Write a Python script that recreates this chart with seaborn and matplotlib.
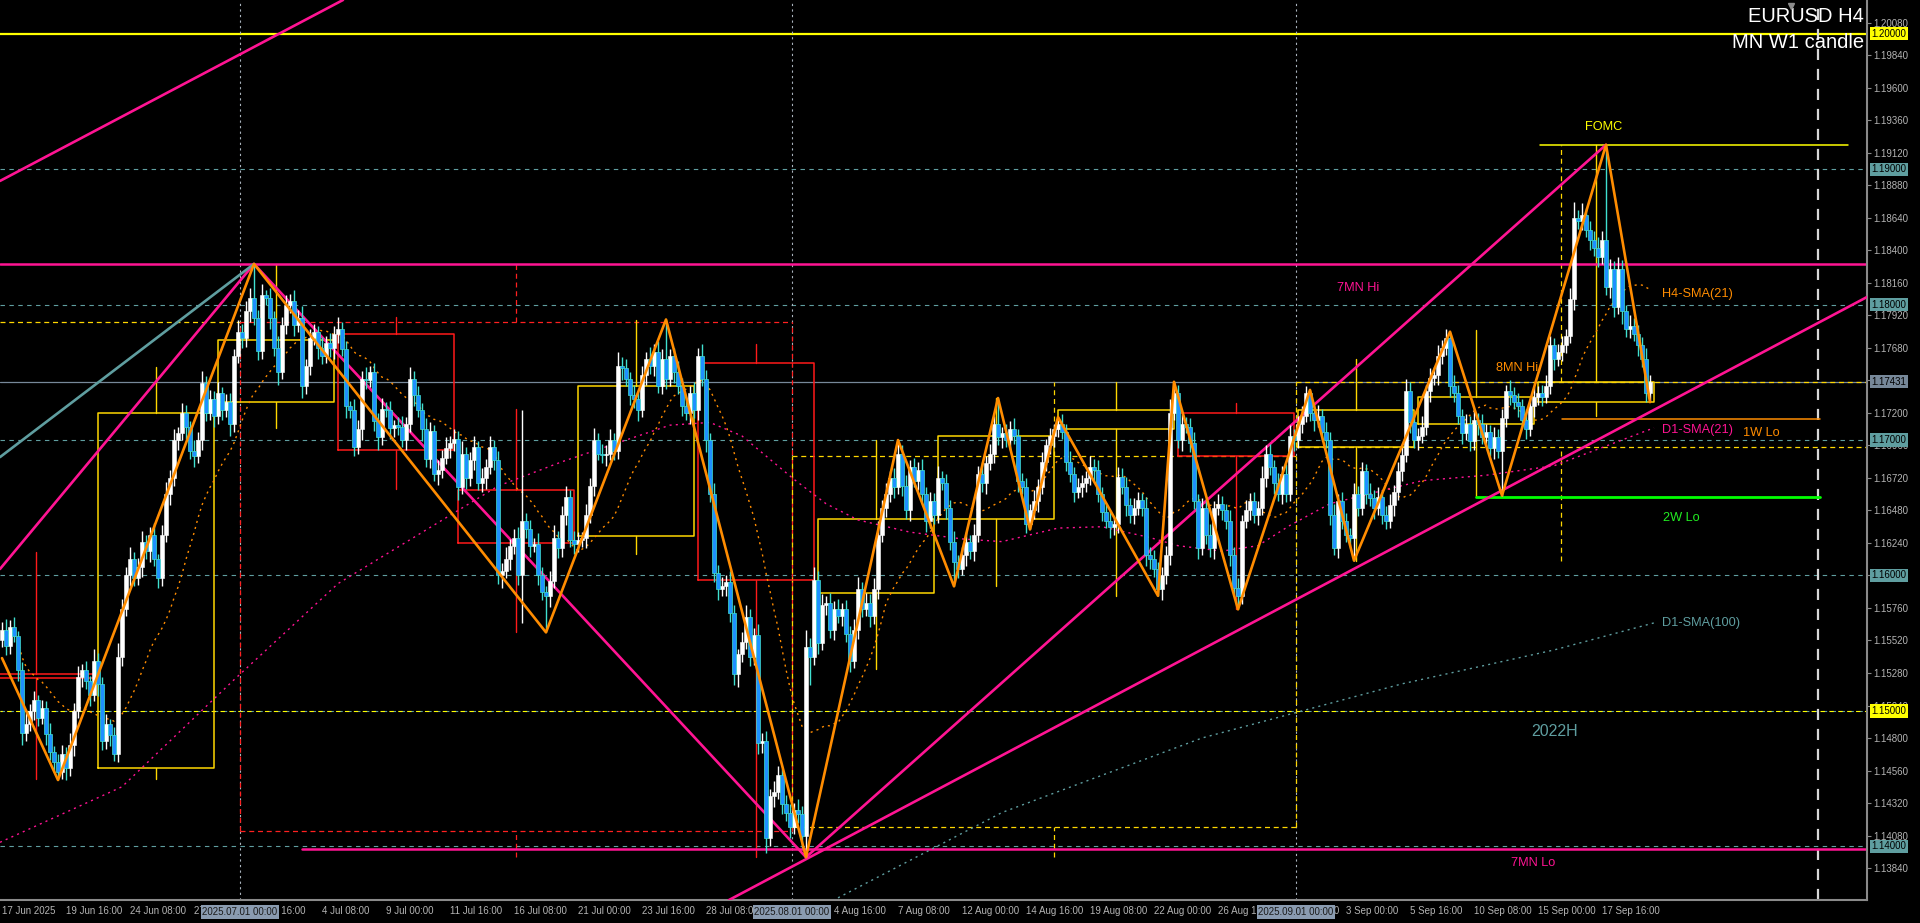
import numpy as np
import pandas as pd
import matplotlib
matplotlib.use("Agg")
import matplotlib.pyplot as plt
import matplotlib.transforms as mtransforms
import seaborn as sns

# ---- EURUSD H4 candles, 17 Jun 2025 00:00 onwards (prices x 10000) ----
first_open = 11552
closes = [
    11560, 11548, 11562, 11555, 11530, 11484, 11490, 11500, 11508, 11495,
    11502, 11483, 11470, 11462, 11455, 11468, 11458, 11475, 11500, 11525,
    11530, 11522, 11512, 11537, 11520, 11478, 11490, 11482, 11468, 11540,
    11575, 11600, 11612, 11598, 11606, 11625, 11618, 11630, 11612, 11598,
    11630, 11660, 11672, 11700, 11705, 11720, 11710, 11692, 11688, 11700,
    11742, 11720, 11730, 11718, 11735, 11722, 11728, 11712, 11762, 11780,
    11775, 11795, 11805, 11790, 11766, 11807, 11805, 11790, 11768, 11750,
    11785, 11800, 11803, 11785, 11790, 11740, 11755, 11775, 11780, 11768,
    11762, 11772, 11768, 11778, 11782, 11767, 11725, 11722, 11695, 11708,
    11745, 11744, 11750, 11714, 11702, 11723, 11722, 11709, 11711, 11710,
    11700, 11712, 11745, 11733, 11722, 11708, 11686, 11707, 11675, 11678,
    11687, 11694, 11698, 11701, 11665, 11690, 11672, 11685, 11695, 11668,
    11672, 11680, 11695, 11685, 11600, 11603, 11612, 11622, 11628, 11600,
    11640, 11634, 11622, 11623, 11600, 11588, 11585, 11596, 11628, 11620,
    11645, 11658, 11626, 11623, 11626, 11628, 11645, 11666, 11700, 11690,
    11689, 11690, 11700, 11692, 11755, 11753, 11745, 11733, 11730, 11722,
    11748, 11760, 11755, 11765, 11740, 11760, 11745, 11762, 11750, 11740,
    11725, 11720, 11735, 11722, 11762, 11745, 11700, 11660, 11602, 11590,
    11592, 11595, 11572, 11527, 11542, 11551, 11569, 11540, 11556, 11476,
    11478, 11406, 11437, 11440, 11453, 11431, 11425, 11414, 11427, 11424,
    11408, 11547, 11540, 11597, 11550, 11578, 11580, 11560, 11575, 11570,
    11575, 11557, 11537, 11560, 11590, 11575, 11580, 11570, 11590, 11630,
    11650, 11660, 11672, 11665, 11690, 11666, 11648, 11680, 11670, 11678,
    11660, 11640, 11655, 11645, 11672, 11668, 11650, 11625, 11610, 11605,
    11615, 11625, 11618, 11630, 11675, 11668, 11683, 11690, 11712, 11702,
    11705, 11700, 11708, 11703, 11670, 11665, 11638, 11648, 11655, 11665,
    11684, 11696, 11703, 11708, 11712, 11706, 11684, 11675, 11662, 11665,
    11668, 11672, 11680, 11678, 11660, 11647, 11640, 11636, 11638, 11673,
    11665, 11652, 11645, 11650, 11656, 11650, 11615, 11612, 11605, 11590,
    11600, 11615, 11720, 11735, 11700, 11712, 11710, 11698, 11655, 11620,
    11650, 11630, 11620, 11650, 11653, 11648, 11640, 11615, 11591, 11585,
    11640, 11648, 11655, 11645, 11650, 11672, 11690, 11680, 11668, 11660,
    11675, 11660, 11703, 11700, 11712, 11718, 11735, 11720, 11715, 11718,
    11706, 11700, 11645, 11620, 11655, 11640, 11630, 11628, 11660, 11650,
    11677, 11660, 11657, 11650, 11658, 11645, 11640, 11652, 11662, 11677,
    11689, 11736, 11713, 11700, 11703, 11710, 11736, 11746, 11748, 11762,
    11768, 11775, 11740, 11735, 11718, 11705, 11712, 11699, 11715, 11712,
    11702, 11706, 11694, 11702, 11692, 11716, 11736, 11733, 11728, 11725,
    11715, 11708, 11725, 11732, 11735, 11732, 11740, 11770, 11760, 11765,
    11770, 11777, 11804, 11864, 11862, 11866, 11855, 11848, 11842, 11835,
    11848, 11813, 11826, 11798, 11826, 11795, 11782, 11784, 11778, 11770,
    11760, 11735, 11743,
]
# wick lengths above / below the body, in pips
upper_wick = [
    6, 8, 5, 7, 4, 6, 9, 5, 7, 4, 6, 5, 8, 4, 6, 7, 5, 9, 6, 8,
    5, 7, 4, 9, 6, 5, 8, 4, 6, 10, 8, 6, 9, 5, 7, 8, 5, 6, 9, 4,
    7, 9, 6, 8, 5, 7, 6, 4, 8, 6, 9, 5, 7, 6, 8, 4, 6, 7, 5, 9,
    6, 8, 7, 25, 6, 8, 4, 7, 5, 9, 6, 7, 5, 8, 6, 9, 5, 7, 6, 4,
    8, 5, 7, 6, 9, 5, 6, 4, 8, 7, 6, 9, 5, 7, 6, 8, 5, 7, 4, 6,
    8, 5, 9, 6, 7, 5, 8, 6, 4, 7, 6, 8, 5, 7, 6, 9, 5, 6, 8, 4,
    7, 6, 8, 5, 7, 6, 9, 5, 6, 8, 82, 6, 7, 5, 8, 6, 4, 7, 9, 5,
    6, 8, 5, 7, 6, 4, 8, 6, 9, 5, 7, 6, 8, 5, 10, 6, 7, 5, 8, 6,
    7, 5, 9, 6, 8, 7, 29, 5, 6, 8, 6, 7, 5, 8, 6, 9, 7, 5, 8, 6,
    7, 5, 8, 6, 4, 7, 9, 6, 5, 8, 6, 7, 5, 8, 6, 4, 7, 6, 5, 8,
    6, 13, 7, 9, 6, 8, 5, 7, 6, 8, 5, 7, 6, 8, 9, 5, 7, 6, 8, 10,
    6, 8, 5, 7, 10, 6, 8, 5, 7, 6, 8, 5, 7, 6, 9, 5, 7, 6, 8, 5,
    6, 7, 5, 8, 6, 9, 5, 7, 6, 19, 5, 7, 6, 8, 5, 6, 7, 5, 8, 6,
    7, 5, 6, 4, 5, 7, 6, 8, 5, 7, 6, 5, 8, 6, 7, 5, 6, 8, 5, 7,
    6, 8, 5, 7, 6, 5, 8, 6, 7, 5, 6, 7, 10, 8, 6, 7, 5, 6, 8, 5,
    7, 6, 8, 5, 7, 6, 5, 8, 6, 7, 5, 8, 6, 7, 5, 9, 6, 7, 5, 8,
    6, 7, 8, 5, 6, 7, 5, 2, 6, 8, 5, 7, 6, 8, 5, 7, 6, 5, 8, 6,
    7, 5, 8, 6, 7, 5, 6, 8, 5, 7, 6, 9, 7, 5, 6, 8, 5, 7, 6, 8,
    6, 7, 5, 8, 6, 5, 7, 6, 8, 5, 7, 6, 5, 8, 6, 7, 5, 8, 6, 7,
    5, 8, 6, 7, 5, 6, 8, 7, 5, 6, 7, 5, 8, 12, 6, 9, 5, 7, 6, 8,
    6, 70, 8, 6, 9, 7, 5, 8, 6, 7, 6, 8, 5,
]
lower_wick = [
    5, 7, 6, 4, 8, 9, 6, 5, 7, 6, 5, 8, 6, 7, 6, 5, 9, 6, 8, 5,
    7, 6, 8, 5, 9, 7, 6, 8, 5, 6, 7, 5, 8, 6, 5, 7, 6, 8, 5, 7,
    6, 5, 8, 6, 7, 5, 9, 6, 8, 5, 7, 6, 5, 8, 6, 7, 5, 9, 6, 5,
    7, 6, 8, 5, 7, 6, 5, 8, 6, 9, 5, 7, 6, 8, 5, 9, 6, 7, 5, 8,
    6, 5, 7, 8, 6, 5, 9, 6, 7, 5, 8, 6, 5, 7, 9, 6, 5, 8, 7, 6,
    5, 7, 6, 8, 5, 9, 6, 7, 5, 8, 6, 5, 7, 6, 9, 5, 8, 6, 7, 5,
    6, 8, 5, 7, 6, 9, 5, 8, 6, 7, 35, 6, 8, 5, 7, 6, 27, 8, 5, 7,
    6, 8, 5, 7, 6, 5, 8, 6, 7, 5, 6, 8, 5, 7, 6, 9, 5, 7, 6, 8,
    5, 7, 6, 8, 5, 6, 7, 5, 8, 6, 7, 5, 8, 6, 7, 5, 9, 6, 7, 8,
    5, 7, 6, 8, 9, 6, 5, 7, 6, 8, 7, 11, 6, 8, 5, 7, 6, 8, 5, 7,
    9, 16, 21, 6, 8, 5, 7, 6, 8, 5, 7, 6, 8, 5, 7, 6, 5, 8, 6, 7,
    5, 7, 6, 8, 5, 7, 6, 8, 5, 7, 6, 8, 5, 7, 6, 5, 8, 6, 18, 7,
    5, 8, 6, 7, 5, 6, 8, 5, 7, 6, 8, 5, 7, 6, 8, 5, 7, 4, 6, 8,
    5, 7, 6, 8, 6, 5, 7, 6, 8, 5, 7, 6, 5, 8, 6, 7, 5, 8, 6, 7,
    5, 8, 6, 7, 5, 6, 8, 7, 6, 5, 8, 6, 7, 5, 6, 8, 5, 7, 6, 8,
    5, 7, 6, 8, 5, 7, 6, 8, 5, 10, 6, 5, 7, 6, 8, 5, 7, 6, 8, 5,
    7, 6, 5, 8, 6, 7, 5, 6, 8, 5, 7, 6, 8, 5, 7, 6, 5, 8, 17, 6,
    5, 7, 6, 8, 5, 7, 6, 5, 8, 6, 7, 5, 8, 6, 7, 5, 6, 8, 5, 7,
    6, 5, 8, 7, 6, 8, 5, 7, 6, 8, 5, 7, 6, 8, 5, 33, 6, 7, 5, 8,
    6, 7, 5, 8, 6, 7, 5, 6, 8, 5, 7, 6, 5, 8, 6, 7, 5, 8, 6, 7,
    5, 6, 8, 7, 5, 9, 6, 7, 5, 8, 6, 7, 6,
]

# time axis: one label every 16 bars
label_step = 16
time_labels = [
    "17 Jun 2025", "19 Jun 16:00", "24 Jun 08:00", "27 Jun 00:00", "1 Jul 16:00",
    "4 Jul 08:00", "9 Jul 00:00", "11 Jul 16:00", "16 Jul 08:00", "21 Jul 00:00",
    "23 Jul 16:00", "28 Jul 08:00", "31 Jul 00:00", "4 Aug 16:00", "7 Aug 08:00",
    "12 Aug 00:00", "14 Aug 16:00", "19 Aug 08:00", "22 Aug 00:00", "26 Aug 16:00",
    "29 Aug 08:00", "3 Sep 00:00", "5 Sep 16:00", "10 Sep 08:00", "15 Sep 00:00",
    "17 Sep 16:00",
]
month_sep_bars = [60, 198, 324]
month_sep_labels = ["2025.07.01 00:00", "2025.08.01 00:00", "2025.09.01 00:00"]

# price axis
price_ticks = [1.13840, 1.14080, 1.14320, 1.14560, 1.14800, 1.15040, 1.15280,
               1.15520, 1.15760, 1.16000, 1.16240, 1.16480, 1.16720, 1.16960,
               1.17200, 1.17440, 1.17680, 1.17920, 1.18160, 1.18400, 1.18640,
               1.18880, 1.19120, 1.19360, 1.19600, 1.19840, 1.20080]
round_levels = [1.19, 1.18, 1.17, 1.16, 1.15, 1.14]
bid = 1.17431
big_level = 1.2000

# zigzag pivots
zz_bars = [0, 14, 63, 136, 166, 201, 224, 238, 249, 257, 264, 289, 293, 309, 327, 338, 362, 375, 401, 412]
zz_prices = [1.1539, 1.1449, 1.1830, 1.1558, 1.1789, 1.1392, 1.1700, 1.1592, 1.1731, 1.1634,
             1.1717, 1.1585, 1.1743, 1.1575, 1.1737, 1.1611, 1.1780, 1.1659, 1.1918, 1.1728]

# weekly candles (boxes)
wk_start = [-6, 24, 54, 84, 114, 144, 174, 204, 234, 264, 294, 324, 354, 384]
wk_open = [1.1527, 1.1458, 1.1728, 1.1778, 1.1663, 1.1629, 1.1757, 1.1587, 1.1642, 1.1708, 1.1720, 1.1695, 1.1712, 1.1728]
wk_high = [1.1617, 1.1754, 1.1830, 1.1791, 1.1723, 1.1789, 1.1771, 1.1700, 1.1731, 1.1743, 1.1727, 1.1760, 1.1781, 1.1918]
wk_low = [1.1450, 1.1450, 1.1709, 1.1664, 1.1558, 1.1616, 1.1392, 1.1531, 1.1592, 1.1585, 1.1575, 1.1611, 1.1659, 1.1718]
wk_close = [1.1524, 1.1720, 1.1774, 1.1693, 1.1624, 1.1740, 1.1597, 1.1642, 1.1703, 1.1722, 1.1688, 1.1722, 1.1732, 1.1743]

# monthly candles (dashed boxes): Jul, Aug, Sep (June only shows its close)
mn_left = [59.5, 197.5, 323.5]
mn_right = [197.5, 323.5, 466.25]
mn_open = [1.1787, 1.1414, 1.1695]
mn_close = [1.1411, 1.1688, 1.1743]
mn_high = [1.1830, 1.1743, 1.1918]
mn_low = [1.1392, 1.1392, 1.1611]
mn_wick_bar = [128.5, 263.0, 389.75]
jun_close = 1.1787

# daily moving averages
d1_sma21_bars = [-0.5, 30, 58, 84, 124, 140, 167, 177, 185, 198, 206, 214, 227, 240,
                 250, 264, 275, 287, 294, 305, 314, 322, 332, 355, 371, 388, 413]
d1_sma21 = [1.1403, 1.1444, 1.1523, 1.1594, 1.1666, 1.1684, 1.1711, 1.1713, 1.1703, 1.1671,
            1.1653, 1.1641, 1.1632, 1.1627, 1.1625, 1.1635, 1.1636, 1.1628, 1.1622, 1.1618,
            1.1622, 1.1637, 1.1653, 1.1670, 1.1674, 1.1681, 1.1709]
d1_sma100_bars = [209, 250, 300, 350, 388, 413]
d1_sma100 = [1.1362, 1.1425, 1.1480, 1.1520, 1.1545, 1.1565]

# key levels
mn7_hi = 1.1830
mn7_lo = 1.1398
fomc_hi = 1.1918
w1_lo = 1.17155
w2_lo = 1.1658

# trend lines (bar, price) pairs
pink_lines = [
    [(-0.5, 1.18913), (85.25, 1.20249)],
    [(-0.5, 1.16048), (63, 1.1830)],
    [(63, 1.1830), (201, 1.1392)],
    [(201, 1.1392), (401, 1.1918)],
    [(181.75, 1.13604), (466.25, 1.18056)],
]
cadet_line = [(-0.5, 1.16874), (63, 1.1830)]

# ------------------------------------------------------------------
sns.set_style("dark", {"axes.facecolor": "black", "figure.facecolor": "black"})
plt.rcParams["font.family"] = ["Liberation Sans", "DejaVu Sans"]

PINK = "#ff1493"
ORANGE = "#ff8c00"
CADET = "#5f9ea0"
GOLD = "#ffd700"
AXC = "#b4b4b4"

XMIN, XMAX = -0.5, 466.25
YMIN, YMAX = 1.13604, 1.20249

fig = plt.figure(figsize=(19.2, 9.23), dpi=100, facecolor="black")
ax = fig.add_axes([0, 23 / 923, 1867 / 1920, 900 / 923])
ax.set_facecolor("black")

# candles dataframe
c = np.array(closes) / 10000
o = np.concatenate([[first_open / 10000], c[:-1]])
df = pd.DataFrame({"bar": np.arange(len(c)), "open": o, "close": c})
df["high"] = np.maximum(df.open, df.close) + np.array(upper_wick) / 10000
df["low"] = np.minimum(df.open, df.close) - np.array(lower_wick) / 10000
df["bull"] = df.close >= df.open
df["sma21"] = df.close.rolling(21, min_periods=1).mean()

# round number levels
for lv in round_levels:
    ax.axhline(lv, color=CADET, lw=0.8, ls=(0, (4, 4)), zorder=1)
ax.axhline(1.15, color="#ffff00", lw=0.8, ls=(2, (4, 4)), zorder=1)
ax.axhline(big_level, color="#ffff00", lw=1.6, zorder=1)
ax.axhline(bid, color="#778899", lw=0.9, zorder=1)

# period separators
for b in month_sep_bars:
    ax.axvline(b - 0.5, color="#aab4be", lw=0.8, ls=(0, (2, 3)), zorder=1)
ax.axvline(454, color="#d8d8d8", lw=1.6, ls=(0, (5, 4)), zorder=1)

# monthly dashed boxes
ax.plot([XMIN, 59.5], [jun_close, jun_close], color=GOLD, lw=0.9, ls=(0, (4, 3)), zorder=2)
for i in range(len(mn_left)):
    col = GOLD if mn_close[i] >= mn_open[i] else "#ff2020"
    top, bot = max(mn_open[i], mn_close[i]), min(mn_open[i], mn_close[i])
    kw = dict(color=col, lw=0.9, ls=(0, (4, 3)), zorder=2)
    ax.plot([mn_left[i], mn_right[i]], [top, top], **kw)
    ax.plot([mn_left[i], mn_right[i]], [bot, bot], **kw)
    ax.plot([mn_left[i], mn_left[i]], [bot, top], **kw)
    ax.plot([mn_right[i], mn_right[i]], [bot, top], **kw)
    ax.plot([mn_wick_bar[i]] * 2, [top, mn_high[i]], **kw)
    ax.plot([mn_wick_bar[i]] * 2, [mn_low[i], bot], **kw)

# weekly boxes
for i in range(len(wk_start)):
    col = GOLD if wk_close[i] >= wk_open[i] else "#ff1a1a"
    top, bot = max(wk_open[i], wk_close[i]), min(wk_open[i], wk_close[i])
    x0, x1 = wk_start[i], wk_start[i] + 29
    xm = wk_start[i] + 14.5
    ax.plot([x0, x1, x1, x0, x0], [bot, bot, top, top, bot], color=col, lw=1.1, zorder=2)
    ax.plot([xm, xm], [top, wk_high[i]], color=col, lw=1.0, zorder=2)
    ax.plot([xm, xm], [wk_low[i], bot], color=col, lw=1.0, zorder=2)

# key level lines
ax.axhline(mn7_hi, color=PINK, lw=1.8, zorder=2)
ax.plot([75, XMAX], [mn7_lo, mn7_lo], color=PINK, lw=1.8, zorder=2)
ax.plot([384.5, 461.5], [fomc_hi, fomc_hi], color="#ffff00", lw=1.1, zorder=2)
ax.plot([390, 454.5], [w1_lo, w1_lo], color=ORANGE, lw=1.1, zorder=2)
ax.plot([368.5, 454.5], [w2_lo, w2_lo], color="#00ff00", lw=2.0, zorder=2)

# moving averages
sns.lineplot(x=df.bar, y=df.sma21, ax=ax, color=ORANGE, lw=1.0, linestyle=(0, (1.5, 3)),
             estimator=None, sort=False, legend=False, zorder=3)
sns.lineplot(x=d1_sma21_bars, y=d1_sma21, ax=ax, color=PINK, lw=1.0, linestyle=(0, (1.5, 3)),
             estimator=None, sort=False, legend=False, zorder=3)
sns.lineplot(x=d1_sma100_bars, y=d1_sma100, ax=ax, color=CADET, lw=1.0, linestyle=(0, (1.5, 3)),
             estimator=None, sort=False, legend=False, zorder=3)

# trend lines
for (p0, p1) in pink_lines:
    ax.plot([p0[0], p1[0]], [p0[1], p1[1]], color=PINK, lw=1.9, zorder=4)
ax.plot([cadet_line[0][0], cadet_line[1][0]], [cadet_line[0][1], cadet_line[1][1]],
        color=CADET, lw=1.9, zorder=4)

# candles
bull = df[df.bull]
bear = df[~df.bull]
ax.vlines(bull.bar, bull.low, bull.high, color="white", lw=1.0, zorder=5)
ax.vlines(bear.bar, bear.low, bear.high, color="#40e0d0", lw=1.0, zorder=5)
ax.bar(bull.bar, np.maximum(bull.close - bull.open, 0.00004), bottom=bull.open, width=0.8,
       color="white", edgecolor="white", lw=0.4, zorder=6)
ax.bar(bear.bar, np.maximum(bear.open - bear.close, 0.00004), bottom=bear.close, width=0.8,
       color="#1e90ff", edgecolor="#40e0d0", lw=0.5, zorder=6)

# zigzag
sns.lineplot(x=zz_bars, y=zz_prices, ax=ax, color=ORANGE, lw=1.9, estimator=None,
             sort=False, legend=False, zorder=7)

# annotations
ann = dict(fontsize=9.2, va="center", zorder=8)
ax.text(333.75, 1.18120, "7MN Hi", color=PINK, ha="left", **ann)
ax.text(382.75, 1.13878, "7MN Lo", color=PINK, ha="center", **ann)
ax.text(378.75, 1.17532, "8MN Hi", color=ORANGE, ha="center", **ann)
ax.text(400.5, 1.19311, "FOMC", color="#ffff00", ha="center", **ann)
ax.text(415.0, 1.18078, "H4-SMA(21)", color=ORANGE, ha="left", **ann)
ax.text(415.0, 1.17074, "D1-SMA(21)", color=PINK, ha="left", **ann)
ax.text(435.25, 1.17052, "1W Lo", color=ORANGE, ha="left", **ann)
ax.text(415.25, 1.16425, "2W Lo", color="#22ee22", ha="left", **ann)
ax.text(415.0, 1.15650, "D1-SMA(100)", color=CADET, ha="left", **ann)
ax.text(388.25, 1.14845, "2022H", color=CADET, ha="center", fontsize=11.5, va="center", zorder=8)

ax.text(0.9985, 0.982, "EURUSD H4", transform=ax.transAxes, ha="right", va="center",
        color="white", fontsize=14.5, zorder=9)
ax.text(0.9985, 0.953, "MN W1 candle", transform=ax.transAxes, ha="right", va="center",
        color="white", fontsize=14.5, zorder=9)
ax.plot([447.25], [1.20205], marker="v", color="#8c8c8c", ms=5, zorder=9, clip_on=False)

# axes limits / spines
ax.set_xlim(XMIN, XMAX)
ax.set_ylim(YMIN, YMAX)
for s in ["left", "top"]:
    ax.spines[s].set_visible(False)
for s in ["right", "bottom"]:
    ax.spines[s].set_color("#8a8a8a")
    ax.spines[s].set_linewidth(1.5)
ax.grid(False)

ax.yaxis.tick_right()
ax.set_yticks(price_ticks)
ax.set_yticklabels([f"{p:.5f}" for p in price_ticks])
tick_bars = [i * label_step for i in range(len(time_labels))]
ax.set_xticks(tick_bars)
ax.set_xticklabels(time_labels, ha="left")
ax.tick_params(axis="both", colors="#8a8a8a", labelcolor=AXC, labelsize=7.0,
               length=3, width=0.8, pad=1.5)
ax.set_xlabel("")
ax.set_ylabel("")

# price tags on the axis
tag_tr = mtransforms.blended_transform_factory(ax.transAxes, ax.transData)
tags = [(big_level, "#ffff00"), (1.19, CADET), (1.18, CADET), (bid, "#778899"),
        (1.17, CADET), (1.16, CADET), (1.15, "#ffff00"), (1.14, CADET)]
for lv, col in tags:
    ax.text(1.0025, lv, f"{lv:.5f}", transform=tag_tr, ha="left", va="center", fontsize=7.0,
            color="black", clip_on=False, zorder=10,
            bbox=dict(facecolor=col, edgecolor="none", pad=1.2))

# month labels on the time axis
sep_tr = mtransforms.blended_transform_factory(ax.transData, ax.transAxes)
for b, lab in zip(month_sep_bars, month_sep_labels):
    ax.text(b - 0.5, -0.0135, lab, transform=sep_tr, ha="center", va="center", fontsize=7.0,
            color="#1a1a1a", clip_on=False, zorder=10,
            bbox=dict(facecolor="#8a9bb0", edgecolor="none", pad=1.2))

fig.savefig("out.png", dpi=100, facecolor="black")
